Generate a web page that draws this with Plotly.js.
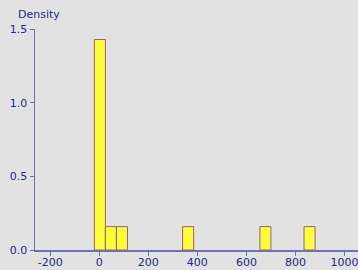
<!DOCTYPE html>
<html><head><meta charset="utf-8">
<script src="https://cdn.plot.ly/plotly-3.0.1.min.js"></script>
<style>html,body{margin:0;padding:0;background:#e2e2e2;}</style>
</head><body>
<div id="chart" style="width:358px;height:270px;"></div>
<script>
const binStart = [-20, 25, 70, 340, 655, 835];
const binWidth = [45, 45, 45, 45, 45, 45];
const density = [1.4286, 0.1587, 0.1587, 0.1587, 0.1587, 0.1587];
const xTicks = [-200, 0, 200, 400, 600, 800, 1000];
const yTicks = [0, 0.5, 1.0, 1.5];

const centers = binStart.map((s, i) => s + binWidth[i] / 2);
const navy = '#1c2a8a';
const axisCol = '#6a72b4';

Plotly.newPlot('chart', [{
  type: 'bar',
  x: centers,
  y: density,
  width: binWidth,
  marker: {color: '#ffff33', line: {color: '#9a5a8c', width: 1}},
  hoverinfo: 'skip'
}], {
  width: 358, height: 270,
  paper_bgcolor: '#e2e2e2', plot_bgcolor: '#e2e2e2',
  margin: {l: 35, r: 0, t: 29, b: 20},
  showlegend: false,
  font: {family: 'DejaVu Sans', size: 11, color: navy},
  xaxis: {
    range: [-262, 1055], tickvals: xTicks, ticktext: xTicks.map(String),
    showgrid: false, zeroline: false, showline: true, linecolor: axisCol, linewidth: 1.5,
    ticks: 'outside', ticklen: 4, tickcolor: axisCol, tickfont: {size: 11, color: navy},
    ticklabelstandoff: -3, ticklabeloverflow: 'allow', automargin: false
  },
  yaxis: {
    range: [0, 1.5], tickvals: yTicks, ticktext: yTicks.map(v => v.toFixed(1)),
    showgrid: false, zeroline: false, showline: true, linecolor: axisCol, linewidth: 1.5,
    ticks: 'outside', ticklen: 4, tickcolor: axisCol, tickfont: {size: 11, color: navy},
    automargin: false
  },
  annotations: [{
    text: 'Density', xref: 'paper', yref: 'paper', x: -0.06, y: 1.0, yshift: 15,
    xanchor: 'left', yanchor: 'middle', showarrow: false,
    font: {size: 11, color: navy}
  }]
}, {displayModeBar: false, staticPlot: true});
</script>
</body></html>
